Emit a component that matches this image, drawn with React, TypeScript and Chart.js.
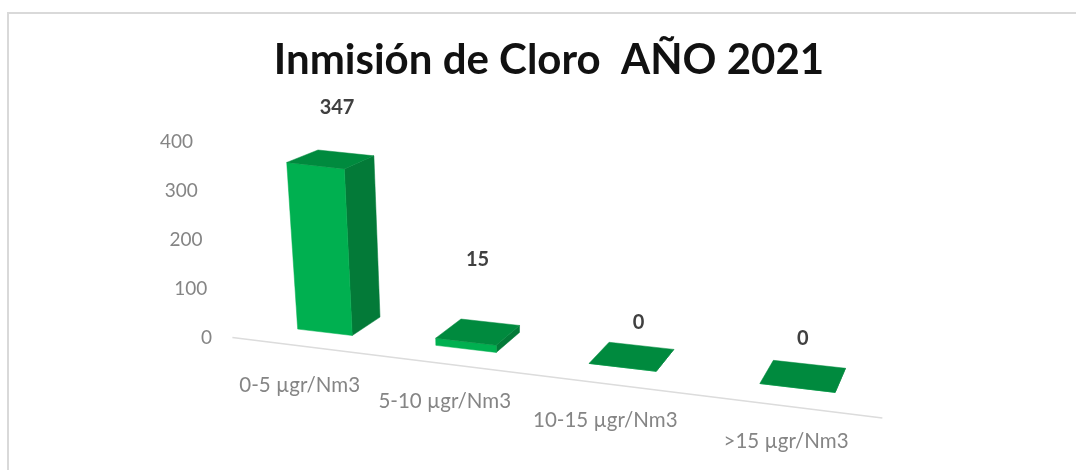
import React, { useEffect, useRef } from "react";
import { Chart, registerables } from "chart.js";

Chart.register(...registerables);

const titleText = "Inmisión de Cloro  AÑO 2021";
const categories = ["0-5 µgr/Nm3", "5-10 µgr/Nm3", "10-15 µgr/Nm3", ">15 µgr/Nm3"];
const values = [347, 15, 0, 0];
const yTickStep = 100;
const yMax = 400;

// placement of the hand-moved labels of the source chart
const valueLabelLift = [52, 73, 34, 38];
const valueLabelShift = [7, 0, 7, 0];
const categoryLabelShift = [-25, -21, -17, -11];

const FRONT = "#00b050";
const SIDE = "#037a38";
const TOP = "#008a3e";
const TEXT = "#404040";
const AXIS_TEXT = "#858585";
const FONT = "Lato, 'Open Sans', sans-serif";
const BAR_DEPTH = 1.05;

// perspective of the ground plane: chart x pixel + depth -> page position
function ground(chart: any, px: number, d: number) {
  const { left, right } = chart.chartArea;
  const u = -0.0858 + (1.178 * (px - left)) / (right - left);
  const w = 1 - 0.1666 * u + 0.038 * d;
  return { x: (396.4 * u + 40.35 * d + 297) / w, y: (-2.3 * u - 5.14 * d + 329) / w };
}

function project(chart: any, px: number, d: number, height: number) {
  const g = ground(chart, px, d);
  const f = 0.98 - 0.03 * d;
  const lean = 0.097 - 0.000337 * (g.x - 205);
  return { x: g.x - lean * height * f, y: g.y - height * f };
}

function poly(ctx: CanvasRenderingContext2D, pts: { x: number; y: number }[], color: string) {
  ctx.beginPath();
  pts.forEach((p, i) => (i ? ctx.lineTo(p.x, p.y) : ctx.moveTo(p.x, p.y)));
  ctx.closePath();
  ctx.fillStyle = color;
  ctx.strokeStyle = color;
  ctx.lineWidth = 0.5;
  ctx.fill();
  ctx.stroke();
}

const perspectivePlugin = {
  id: "perspective",
  beforeDraw(chart: any) {
    const ctx = chart.ctx;
    // panel edge
    ctx.save();
    ctx.strokeStyle = "#d9d9d9";
    ctx.lineWidth = 2;
    ctx.beginPath();
    ctx.moveTo(8, 470);
    ctx.lineTo(8, 13);
    ctx.lineTo(1076, 13);
    ctx.stroke();
    ctx.restore();

    // slide the library's tick labels along the tilted axes
    const xScale = chart.scales.x;
    const yScale = chart.scales.y;
    xScale._labelItems = null;
    yScale._labelItems = null;
    xScale.getLabelItems().forEach((item: any, i: number) => {
      const px = xScale.getPixelForTick(i);
      const g = ground(chart, px, 0);
      item.textOffset = 0;
      item.options.textAlign = "center";
      item.options.textBaseline = "middle";
      item.options.translation = [g.x + categoryLabelShift[i], g.y + 53];
    });
    const zero = yScale.getPixelForValue(0);
    yScale.getLabelItems().forEach((item: any, i: number) => {
      const py = yScale.getPixelForTick(i);
      item.textOffset = 0;
      item.options.textAlign = "right";
      item.options.textBaseline = "middle";
      item.options.translation = [212 - 0.097 * (zero - py), py];
    });

    // category axis line
    const a = ground(chart, chart.chartArea.left - 6, -0.75);
    const b = ground(chart, chart.chartArea.right - 4, -0.75);
    ctx.save();
    ctx.strokeStyle = "#dcdcdc";
    ctx.lineWidth = 1.5;
    ctx.beginPath();
    ctx.moveTo(a.x, a.y);
    ctx.lineTo(b.x, b.y);
    ctx.stroke();
    ctx.restore();
  },
  beforeDatasetDraw(chart: any, args: any) {
    const ctx = chart.ctx;
    chart.getDatasetMeta(args.index).data.forEach((bar: any) => {
      const l = bar.x - bar.width / 2;
      const r = bar.x + bar.width / 2;
      const h = bar.base - bar.y;
      const fl0 = project(chart, l, 0, 0);
      const fr0 = project(chart, r, 0, 0);
      const br0 = project(chart, r, BAR_DEPTH, 0);
      const flT = project(chart, l, 0, h);
      const frT = project(chart, r, 0, h);
      const brT = project(chart, r, BAR_DEPTH, h);
      const blT = project(chart, l, BAR_DEPTH, h);
      poly(ctx, [fr0, br0, brT, frT], SIDE);
      poly(ctx, [fl0, fr0, frT, flT], FRONT);
      poly(ctx, [flT, frT, brT, blT], TOP);
    });
    return false;
  },
  afterDatasetsDraw(chart: any) {
    const ctx = chart.ctx;
    ctx.save();
    ctx.font = `700 20px ${FONT}`;
    ctx.fillStyle = TEXT;
    ctx.textAlign = "center";
    ctx.textBaseline = "middle";
    chart.getDatasetMeta(0).data.forEach((bar: any, i: number) => {
      const p = project(chart, bar.x, 0.5, bar.base - bar.y);
      ctx.fillText(String(values[i]), p.x + valueLabelShift[i], p.y - valueLabelLift[i]);
    });
    ctx.restore();
  },
};

export default function App() {
  const ref = useRef<HTMLCanvasElement>(null);
  useEffect(() => {
    const chart = new Chart(ref.current as HTMLCanvasElement, {
      type: "bar",
      data: {
        labels: categories,
        datasets: [
          {
            label: "Inmisión de Cloro",
            data: values,
            backgroundColor: FRONT,
            categoryPercentage: 1,
            barPercentage: 0.407,
          },
        ],
      },
      options: {
        animation: false,
        responsive: false,
        layout: { padding: { left: 22, top: 35, right: 0, bottom: 0 } },
        plugins: {
          legend: { display: false },
          tooltip: { enabled: false },
          title: {
            display: true,
            text: titleText,
            color: "#111111",
            font: { family: FONT, size: 42, weight: "bold" },
            padding: { top: 0, bottom: 56.6 },
          },
        },
        scales: {
          x: {
            grid: { display: false },
            border: { display: false },
            ticks: { color: AXIS_TEXT, font: { family: FONT, size: 20.5 }, maxRotation: 0, autoSkip: false },
            afterFit: (s: any) => {
              s.height = 132;
            },
          },
          y: {
            min: 0,
            max: yMax,
            grid: { display: false },
            border: { display: false },
            ticks: { stepSize: yTickStep, color: AXIS_TEXT, font: { family: FONT, size: 19 } },
            afterFit: (s: any) => {
              s.width = 210;
            },
          },
        },
      },
      plugins: [perspectivePlugin],
    } as any);
    return () => chart.destroy();
  }, []);
  return (
    <div style={{ position: "absolute", left: 0, top: 0, width: 1076, height: 470, overflow: "hidden", background: "#fff" }}>
      <canvas ref={ref} width={1076} height={470} style={{ display: "block" }} />
    </div>
  );
}
